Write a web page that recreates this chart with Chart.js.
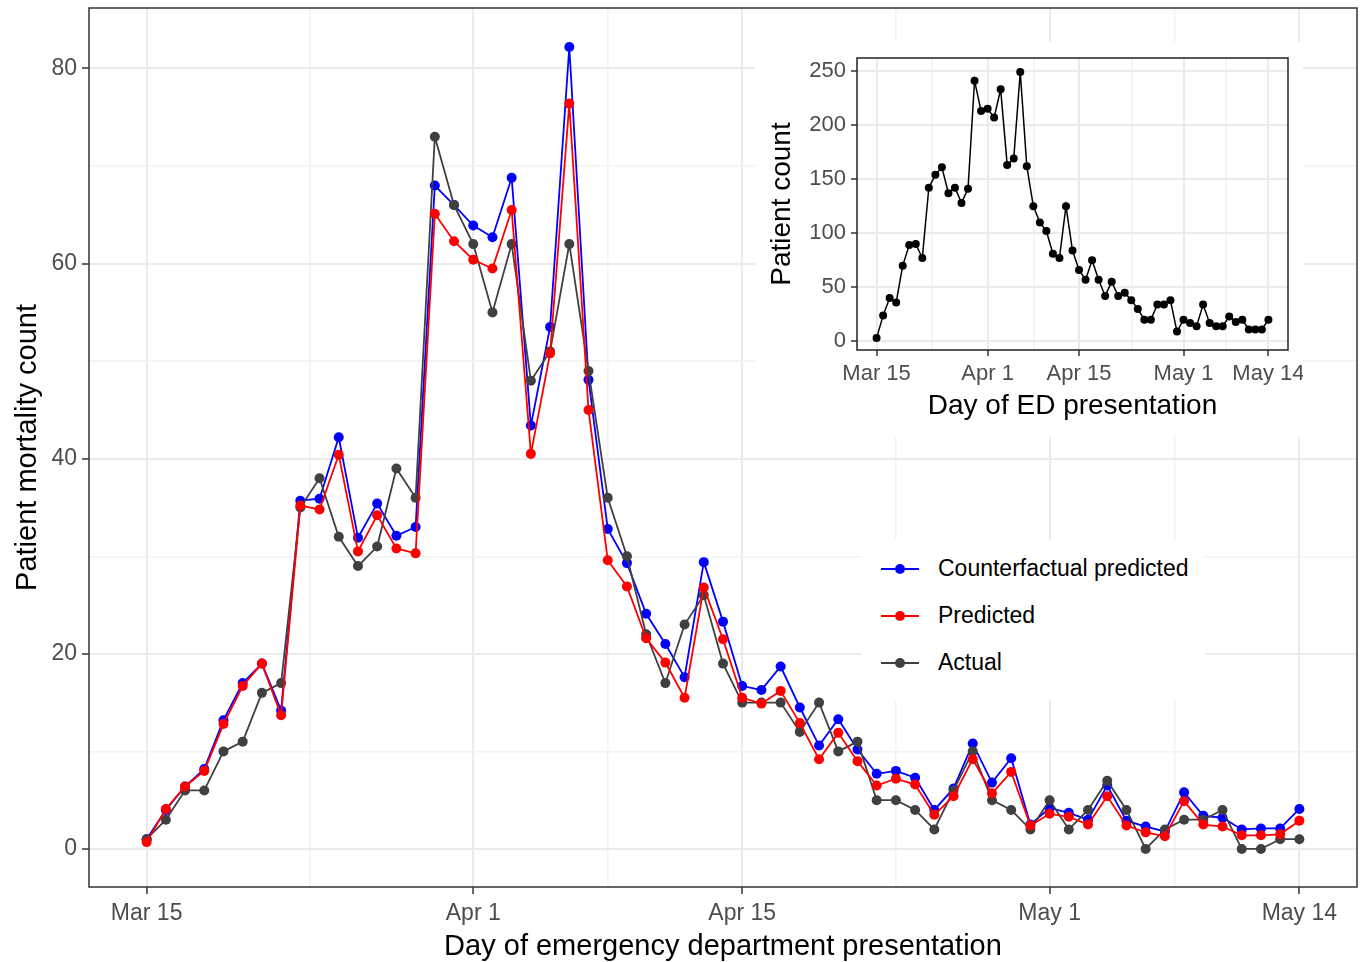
<!DOCTYPE html>
<html>
<head>
<meta charset="utf-8">
<script src="https://cdn.jsdelivr.net/npm/chart.js@4.4.1/dist/chart.umd.min.js"></script>
<style>
    body { margin: 0; background: #fff; }
    #wrap { position: relative; width: 1363px; height: 962px; background: #fff; }
    #inset { position: absolute; left: 755px; top: 42px; width: 548px; height: 395px; background: #fff; }
    #legend { position: absolute; left: 862px; top: 540px; width: 343px; height: 160px; background: #fff;
              padding-top: 5px; box-sizing: border-box; font-family: 'Liberation Sans', Arial, sans-serif; }
    .legend-row { display: flex; align-items: center; height: 47px; }
    .legend-key { position: relative; width: 38px; height: 47px; margin-left: 19px; }
    .legend-key .line { position: absolute; left: 0; right: 0; top: 22.5px; height: 2px; }
    .legend-key .dot { position: absolute; left: 14px; top: 18.5px; width: 10px; height: 10px; border-radius: 50%; }
    .legend-text { margin-left: 19px; font-size: 23px; color: #000; }
</style>
</head>
<body>
<div id="wrap">
    <canvas id="mainChart" width="1363" height="962"></canvas>
    <div id="inset"><canvas id="insetChart" width="548" height="395"></canvas></div>
    <div id="legend"></div>
</div>
<script>
// days since Mar 15 for the labelled dates
const tickDays = [0, 17, 31, 47, 60];
const tickLabels = ['Mar 15', 'Apr 1', 'Apr 15', 'May 1', 'May 14'];

const counterfactual = [1.0, 4.0, 6.4, 8.2, 13.2, 17.0, 19.0, 14.2, 35.7, 35.9,
    42.2, 31.9, 35.4, 32.1, 33.0, 68.0, 66.0, 63.9, 62.7, 68.8,
    43.4, 53.5, 82.2, 48.1, 32.8, 29.3, 24.1, 21.0, 17.6, 29.4,
    23.3, 16.7, 16.3, 18.7, 14.5, 10.6, 13.3, 10.2, 7.7, 8.0,
    7.3, 4.0, 6.2, 10.8, 6.8, 9.3, 2.5, 4.2, 3.7, 3.0,
    6.5, 2.9, 2.3, 1.8, 5.8, 3.4, 3.2, 2.0, 2.1, 2.1, 4.1];

const predicted = [0.7, 4.1, 6.4, 8.0, 12.8, 16.7, 19.0, 13.7, 35.2, 34.8,
    40.4, 30.5, 34.2, 30.8, 30.3, 65.1, 62.3, 60.4, 59.5, 65.5,
    40.5, 50.8, 76.4, 45.0, 29.6, 26.9, 21.6, 19.1, 15.5, 26.8,
    21.5, 15.5, 14.9, 16.2, 12.9, 9.2, 11.9, 9.0, 6.5, 7.2,
    6.6, 3.5, 5.4, 9.2, 5.7, 7.9, 2.4, 3.6, 3.3, 2.5,
    5.4, 2.4, 1.7, 1.3, 4.9, 2.5, 2.3, 1.4, 1.4, 1.5, 2.9];

const actual = [1, 3, 6, 6, 10, 11, 16, 17, 35, 38,
    32, 29, 31, 39, 36, 73, 66, 62, 55, 62,
    48, 51, 62, 49, 36, 30, 22, 17, 23, 26,
    19, 15, 15, 15, 12, 15, 10, 11, 5, 5,
    4, 2, 6, 10, 5, 4, 2, 5, 2, 4,
    7, 4, 0, 2, 3, 3, 4, 0, 0, 1, 1];

const edPatients = [3, 24, 40, 36, 70, 89, 90, 77, 142, 154,
    161, 137, 142, 128, 141, 241, 213, 215, 207, 233,
    163, 169, 249, 162, 125, 110, 102, 81, 77, 125,
    84, 66, 57, 75, 57, 42, 55, 42, 45, 38,
    30, 20, 20, 34, 34, 38, 9, 20, 17, 14,
    34, 17, 14, 14, 23, 18, 20, 11, 11, 11, 20];

const mainYTicks = [0, 20, 40, 60, 80];
const insetYTicks = [0, 50, 100, 150, 200, 250];

Chart.defaults.font.family = "'Liberation Sans', Arial, sans-serif";

function toPoints(values) {
    return values.map((v, i) => ({ x: i, y: v }));
}

// major ticks plus ggplot-style minor breaks halfway between them
function withMinor(major) {
    const out = [];
    major.forEach((v, i) => {
        if (i > 0) out.push((major[i - 1] + v) / 2);
        out.push(v);
    });
    return out;
}

const panelBorder = {
    id: 'panelBorder',
    afterDraw(chart, args, opts) {
        const { ctx, chartArea: a } = chart;
        ctx.save();
        ctx.strokeStyle = opts.color;
        ctx.lineWidth = opts.width;
        ctx.strokeRect(a.left, a.top, a.right - a.left, a.bottom - a.top);
        ctx.restore();
    }
};

function xScale(height, tickLen, pad, fontSize, titleText, titleSize, titlePad) {
    return {
        type: 'linear',
        min: -3,
        max: 63,
        afterBuildTicks: (scale) => { scale.ticks = withMinor(tickDays).map(v => ({ value: v })); },
        afterFit: (scale) => {
            scale.height = height;
            scale.paddingLeft = 0;
            scale.paddingRight = 0;
        },
        ticks: {
            autoSkip: false,
            maxRotation: 0,
            padding: pad,
            color: '#4d4d4d',
            font: { size: fontSize },
            callback: (v) => {
                const i = tickDays.indexOf(v);
                return i >= 0 ? tickLabels[i] : '';
            }
        },
        grid: {
            color: (c) => tickDays.includes(c.tick.value) ? '#ebebeb' : '#f2f2f2',
            lineWidth: (c) => tickDays.includes(c.tick.value) ? 2 : 1.5,
            tickColor: (c) => tickDays.includes(c.tick.value) ? '#333' : 'rgba(0,0,0,0)',
            tickLength: tickLen,
            tickWidth: 1.5
        },
        border: { display: false },
        title: { display: true, text: titleText, color: '#000', font: { size: titleSize }, padding: titlePad }
    };
}

function yScale(min, max, major, width, tickLen, pad, fontSize, titleText, titleSize, titlePad) {
    return {
        type: 'linear',
        min: min,
        max: max,
        afterBuildTicks: (scale) => { scale.ticks = withMinor(major).map(v => ({ value: v })); },
        afterFit: (scale) => {
            scale.width = width;
            scale.paddingTop = 0;
            scale.paddingBottom = 0;
        },
        ticks: {
            padding: pad,
            color: '#4d4d4d',
            font: { size: fontSize },
            callback: (v) => major.includes(v) ? v : ''
        },
        grid: {
            color: (c) => major.includes(c.tick.value) ? '#ebebeb' : '#f2f2f2',
            lineWidth: (c) => major.includes(c.tick.value) ? 2 : 1.5,
            tickColor: (c) => major.includes(c.tick.value) ? '#333' : 'rgba(0,0,0,0)',
            tickLength: tickLen,
            tickWidth: 1.5
        },
        border: { display: false },
        title: { display: true, text: titleText, color: '#000', font: { size: titleSize }, padding: titlePad }
    };
}

function lineSet(label, values, color, order) {
    return {
        label: label,
        data: toPoints(values),
        borderColor: color,
        backgroundColor: color,
        borderWidth: 1.8,
        pointRadius: 5,
        pointBorderWidth: 0,
        pointBackgroundColor: color,
        tension: 0,
        order: order
    };
}

const mainChart = new Chart(document.getElementById('mainChart'), {
    type: 'line',
    data: {
        datasets: [
            lineSet('Counterfactual predicted', counterfactual, '#0000ff', 3),
            lineSet('Predicted', predicted, '#ff0000', 1),
            lineSet('Actual', actual, '#404040', 2)
        ]
    },
    options: {
        responsive: false,
        animation: false,
        devicePixelRatio: 1,
        layout: { padding: { left: 0, top: 8, right: 6, bottom: 0 } },
        plugins: {
            legend: { display: false },
            tooltip: { enabled: false },
            panelBorder: { color: '#333', width: 1.5 }
        },
        scales: {
            x: xScale(75, 7, 6, 23, 'Day of emergency department presentation', 29, { top: 0, bottom: -2 }),
            y: yScale(-3.9, 86.2, mainYTicks, 89, 7, 5, 23, 'Patient mortality count', 29, { top: 11, bottom: 0 })
        }
    },
    plugins: [panelBorder]
});

const insetChart = new Chart(document.getElementById('insetChart'), {
    type: 'line',
    data: {
        datasets: [{
            label: 'Patient count',
            data: toPoints(edPatients),
            borderColor: '#000',
            backgroundColor: '#000',
            borderWidth: 1.5,
            pointRadius: 4,
            pointBorderWidth: 0,
            pointBackgroundColor: '#000',
            tension: 0
        }]
    },
    options: {
        responsive: false,
        animation: false,
        devicePixelRatio: 1,
        layout: { padding: { left: 0, top: 16, right: 15, bottom: 0 } },
        plugins: {
            legend: { display: false },
            tooltip: { enabled: false },
            panelBorder: { color: '#222', width: 1.5 }
        },
        scales: {
            x: xScale(87, 6, 5, 22, 'Day of ED presentation', 28, { top: 0, bottom: 14 }),
            y: yScale(-8, 262, insetYTicks, 102, 6, 5, 22, 'Patient count', 28, { top: 10, bottom: 0 })
        }
    },
    plugins: [panelBorder]
});

// legend built from the main chart's datasets, in ggplot order
const legendEl = document.getElementById('legend');
mainChart.data.datasets.forEach((ds) => {
    const row = document.createElement('div');
    row.className = 'legend-row';
    row.innerHTML = `
        <div class="legend-key">
            <div class="line" style="background:${ds.borderColor}"></div>
            <div class="dot" style="background:${ds.borderColor}"></div>
        </div>
        <span class="legend-text">${ds.label}</span>`;
    legendEl.appendChild(row);
});
</script>
</body>
</html>
